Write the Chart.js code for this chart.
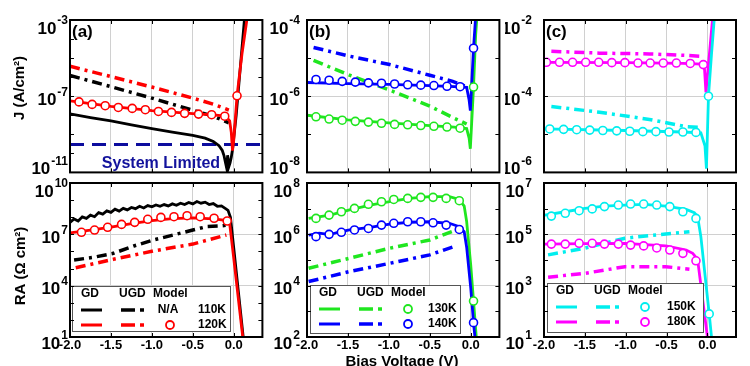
<!DOCTYPE html>
<html>
<head>
<meta charset="utf-8">
<script src="https://cdn.jsdelivr.net/npm/chart.js@4.4.1/dist/chart.umd.min.js"></script>
<style>
  html, body { margin: 0; padding: 0; background: #fff; }
  #fig { position: relative; width: 750px; height: 366px; overflow: hidden; }
  #fig canvas { position: absolute; }
</style>
</head>
<body>
<div id="fig">
  <canvas id="aTop"></canvas>
  <canvas id="bTop"></canvas>
  <canvas id="cTop"></canvas>
  <canvas id="aBot"></canvas>
  <canvas id="bBot"></canvas>
  <canvas id="cBot"></canvas>
</div>
<script>
// bias voltage axis (all panels)
const vRange = [-2.0, 0.35];
const vGrid = [-1.5, -1.0, -0.5, 0.0];
const vTickValues = [-2.0, -1.5, -1.0, -0.5, 0.0];
const vTickLabels = ['-2.0', '-1.5', '-1.0', '-0.5', '0.0'];

// all y values below are log10 exponents

// (a) J, 110K / 120K
const aJ_gd110_v = [-2.0, -1.75, -1.5, -1.25, -1.0, -0.75, -0.5, -0.35, -0.25, -0.18, -0.14, -0.12, -0.1, -0.085, -0.075, -0.06, -0.045, -0.03, -0.015, 0.0, 0.03, 0.07, 0.13, 0.18];
const aJ_gd110   = [-7.93, -8.12, -8.3, -8.5, -8.7, -8.88, -9.06, -9.2, -9.38, -9.6, -9.85, -10.1, -10.5, -10.8, -10.1, -10.7, -10.5, -10.2, -9.8, -9.2, -8.0, -6.0, -3.0, -1.5];
const aJ_gd120_v = [-2.0, -1.5, -1.0, -0.5, -0.25, -0.1, -0.05, -0.03, -0.015, 0.0, 0.04, 0.1, 0.16, 0.22];
const aJ_gd120   = [-7.25, -7.53, -7.76, -7.92, -7.98, -8.05, -8.3, -8.9, -9.86, -9.3, -6.98, -4.8, -3.0, -1.5];
const aJ_ugd_v   = [-2.0, -1.5, -1.0, -0.5, -0.25, -0.06];
const aJ_ugd110  = [-5.91, -6.5, -7.1, -7.74, -8.05, -8.4];
const aJ_ugd120  = [-5.43, -5.97, -6.52, -7.1, -7.42, -7.73];
const aJ_mod_v   = [-1.89, -1.73, -1.57, -1.41, -1.24, -1.08, -0.92, -0.76, -0.60, -0.43, -0.27, -0.11, 0.04];
const aJ_mod120  = [-7.30, -7.43, -7.50, -7.59, -7.64, -7.71, -7.80, -7.85, -7.90, -7.94, -7.97, -8.05, -6.98];
const aJ_sys_v   = [-2.0, 0.35];
const aJ_sys     = [-9.53, -9.53];

// (b) J, 130K / 140K
const bJ_gd_v    = [-2.0, -1.5, -1.0, -0.5, -0.2, -0.05, -0.02, -0.005, 0.034, 0.06, 0.1];
const bJ_gd140   = [-5.64, -5.67, -5.69, -5.72, -5.75, -5.77, -6.1, -6.38, -4.74, -3.9, -3.0];
const bJ_gd130   = [-6.5, -6.62, -6.70, -6.77, -6.81, -6.85, -7.1, -7.38, -5.76, -4.4, -3.2];
const bJ_ugd_v   = [-1.92, -1.48, -0.99, -0.50, -0.22, -0.05];
const bJ_ugd140  = [-4.72, -4.95, -5.17, -5.45, -5.61, -5.75];
const bJ_ugd130  = [-5.06, -5.45, -5.84, -6.26, -6.56, -6.73];
const bJ_mod_v   = [-1.89, -1.73, -1.57, -1.41, -1.25, -1.09, -0.93, -0.77, -0.61, -0.45, -0.29, -0.13, 0.034];
const bJ_mod140  = [-5.56, -5.58, -5.61, -5.63, -5.65, -5.66, -5.68, -5.70, -5.71, -5.72, -5.74, -5.75, -4.74];
const bJ_mod130  = [-6.54, -6.60, -6.63, -6.66, -6.68, -6.71, -6.74, -6.75, -6.77, -6.79, -6.81, -6.84, -5.76];

// (c) J, 150K / 180K
const cJ_gd180_v = [-2.0, -1.0, -0.3, -0.06, -0.035, -0.018, 0.02, 0.062, 0.1];
const cJ_gd180   = [-3.11, -3.12, -3.14, -3.16, -3.3, -3.9, -3.0, -2.0, -1.2];
const cJ_gd150_v = [-2.0, -1.0, -0.3, -0.08, -0.03, -0.012, 0.013, 0.05, 0.083, 0.12];
const cJ_gd150   = [-4.86, -4.9, -4.94, -4.96, -5.3, -5.9, -4.0, -2.9, -2.0, -1.2];
const cJ_ugd_v   = [-1.91, -1.32, -0.71, -0.26, -0.10];
const cJ_ugd180  = [-2.82, -2.87, -2.89, -2.93, -2.95];
const cJ_ugd150  = [-4.27, -4.42, -4.61, -4.80, -4.82];
const cJ_mod180_v = [-1.97, -1.81, -1.65, -1.49, -1.33, -1.17, -1.01, -0.85, -0.70, -0.54, -0.38, -0.21, -0.05];
const cJ_mod180  = [-3.11, -3.11, -3.11, -3.11, -3.11, -3.12, -3.12, -3.13, -3.13, -3.13, -3.13, -3.14, -3.17];
const cJ_mod150_v = [-1.93, -1.76, -1.60, -1.44, -1.28, -1.11, -0.95, -0.79, -0.63, -0.47, -0.30, -0.14, 0.013];
const cJ_mod150  = [-4.86, -4.87, -4.88, -4.89, -4.90, -4.91, -4.92, -4.93, -4.93, -4.94, -4.94, -4.95, -4.0];

// (a) RA, 110K / 120K
const aR_gd110_v = [-2.0, -1.95, -1.9, -1.85, -1.8, -1.75, -1.7, -1.65, -1.6, -1.55, -1.5, -1.45, -1.4, -1.35, -1.3, -1.25, -1.2, -1.15, -1.1, -1.05, -1.0, -0.95, -0.9, -0.85, -0.8, -0.75, -0.7, -0.65, -0.6, -0.55, -0.5, -0.45, -0.4, -0.35, -0.3, -0.25, -0.2, -0.15, -0.1, -0.07, -0.04, 0.0, 0.04, 0.08, 0.12];
const aR_gd110   = [7.70, 7.90, 7.78, 8.02, 7.93, 8.12, 8.03, 8.27, 8.18, 8.37, 8.28, 8.47, 8.36, 8.52, 8.43, 8.57, 8.50, 8.64, 8.54, 8.68, 8.61, 8.72, 8.64, 8.74, 8.66, 8.78, 8.70, 8.82, 8.74, 8.86, 8.78, 8.92, 8.82, 8.88, 8.74, 8.80, 8.64, 8.66, 8.50, 8.40, 8.0, 6.2, 4.4, 2.6, 0.8];
const aR_gd120_v = [-2.0, -1.75, -1.5, -1.25, -1.0, -0.75, -0.5, -0.25, -0.1, -0.05, 0.0, 0.05, 0.11, 0.14];
const aR_gd120   = [7.08, 7.25, 7.42, 7.62, 7.80, 7.92, 7.96, 7.90, 7.82, 7.64, 5.6, 3.5, 1.0, 0.0];
const aR_ugd110_v = [-1.95, -1.71, -1.47, -1.22, -0.98, -0.74, -0.50, -0.33, -0.17, -0.05];
const aR_ugd110  = [5.50, 5.66, 5.89, 6.32, 6.67, 6.96, 7.25, 7.45, 7.49, 7.55];
const aR_ugd120_v = [-1.93, -1.47, -0.98, -0.50, -0.09];
const aR_ugd120  = [5.05, 5.54, 6.03, 6.43, 6.96];
const aR_mod_v   = [-1.86, -1.70, -1.54, -1.37, -1.21, -1.05, -0.89, -0.73, -0.57, -0.41, -0.24, -0.08];
const aR_mod120  = [7.12, 7.25, 7.41, 7.58, 7.70, 7.88, 7.99, 8.03, 8.09, 8.03, 7.94, 7.78];

// (b) RA, 130K / 140K
const bR_gd130_v = [-1.98, -1.72, -1.48, -1.23, -0.99, -0.75, -0.50, -0.26, -0.14, -0.08, -0.05, 0.0, 0.034, 0.07];
const bR_gd130   = [6.62, 6.75, 6.95, 7.14, 7.27, 7.40, 7.47, 7.47, 7.36, 7.1, 6.5, 4.8, 3.4, 1.9];
const bR_gd140_v = [-1.98, -1.85, -1.72, -1.6, -1.48, -1.23, -0.99, -0.75, -0.50, -0.26, -0.14, -0.08, -0.05, 0.0, 0.034, 0.06];
const bR_gd140   = [5.97, 6.05, 5.99, 6.10, 6.17, 6.27, 6.40, 6.47, 6.49, 6.43, 6.30, 6.1, 5.5, 3.9, 2.56, 1.7];
const bR_ugd_v   = [-1.98, -1.48, -0.99, -0.50, -0.18];
const bR_ugd130  = [4.68, 5.07, 5.46, 5.78, 6.17];
const bR_ugd140  = [4.16, 4.55, 4.87, 5.20, 5.55];
const bR_mod_v   = [-1.89, -1.73, -1.58, -1.42, -1.25, -1.09, -0.94, -0.77, -0.61, -0.46, -0.30, -0.14, 0.034];
const bR_mod130  = [6.62, 6.75, 6.88, 7.01, 7.17, 7.27, 7.36, 7.40, 7.44, 7.44, 7.40, 7.31, 3.40];
const bR_mod140  = [5.91, 6.00, 6.08, 6.17, 6.23, 6.36, 6.43, 6.49, 6.49, 6.45, 6.36, 6.19, 2.56];

// (c) RA, 150K / 180K
const cR_gd150_v = [-1.99, -1.74, -1.50, -1.26, -1.01, -0.77, -0.51, -0.26, -0.16, -0.12, -0.08, 0.022, 0.05];
const cR_gd150   = [5.75, 5.88, 6.01, 6.10, 6.14, 6.17, 6.10, 5.97, 5.84, 5.69, 4.91, 1.90, 1.0];
const cR_gd180_v = [-1.99, -1.50, -1.01, -0.51, -0.26, -0.18, -0.12, 0.0, 0.03];
const cR_gd180   = [4.62, 4.64, 4.65, 4.55, 4.39, 4.26, 4.03, 1.0, 0.3];
const cR_ugd_v   = [-1.95, -1.50, -1.01, -0.51, -0.22];
const cR_ugd150  = [4.20, 4.46, 4.85, 5.01, 5.10];
const cR_ugd180  = [3.33, 3.48, 3.74, 3.74, 3.64];
const cR_mod_v   = [-1.91, -1.74, -1.57, -1.41, -1.26, -1.09, -0.94, -0.78, -0.62, -0.46, -0.30, -0.14];
const cR_mod150  = [5.71, 5.82, 5.92, 5.99, 6.08, 6.14, 6.18, 6.18, 6.14, 6.08, 5.88, 5.62];
const cR_mod150x = [0.022, 1.90];
const cR_mod180  = [4.62, 4.62, 4.65, 4.65, 4.62, 4.62, 4.58, 4.55, 4.47, 4.39, 4.26, 3.97];

const RED = '#ff0000', BLK = '#000000', GRN = '#1fe61f', BLU = '#0000ff', CYN = '#00eeee', MAG = '#ff00ff';
const FONT = 'Arial, "Liberation Sans", sans-serif';

function pts(xs, es) {
  return xs.map((x, i) => ({ x: x, y: Math.pow(10, es[i]) }));
}
function gd(xs, es, c) {
  return { data: pts(xs, es), borderColor: c, borderWidth: 2.8, pointRadius: 0, tension: 0 };
}
function ugd(xs, es, c) {
  return { data: pts(xs, es), borderColor: c, borderWidth: 3.5, borderDash: [10, 5, 3, 5], pointRadius: 0, tension: 0 };
}
function model(xs, es, c) {
  return { data: pts(xs, es), showLine: false, pointRadius: 4, pointBorderWidth: 1.6,
           pointBorderColor: c, pointBackgroundColor: '#fff', borderColor: c };
}

function drawPow(ctx, xr, yc, e) {
  const base = '10', sup = String(e);
  ctx.font = 'bold 17px ' + FONT;
  const wb = ctx.measureText(base).width;
  ctx.font = 'bold 12px ' + FONT;
  const ws = ctx.measureText(sup).width;
  const x0 = xr - ws - wb - 1;
  ctx.fillStyle = '#000';
  ctx.textAlign = 'left';
  ctx.textBaseline = 'middle';
  ctx.font = 'bold 17px ' + FONT;
  ctx.fillText(base, x0, yc + 3);
  ctx.font = 'bold 12px ' + FONT;
  ctx.fillText(sup, x0 + wb + 1, yc - 5);
}

function drawLegend(ctx, lg) {
  const x = lg.x, y = lg.y;
  ctx.fillStyle = '#fff';
  ctx.fillRect(x, y, lg.w, lg.h);
  ctx.strokeStyle = '#555';
  ctx.lineWidth = 1;
  ctx.setLineDash([]);
  ctx.strokeRect(x + 0.5, y + 0.5, lg.w, lg.h);
  ctx.fillStyle = '#000';
  ctx.font = 'bold 12px ' + FONT;
  ctx.textBaseline = 'middle';
  ctx.textAlign = 'left';
  ctx.fillText('GD', x + 9, y + 8);
  ctx.fillText('UGD', x + 47, y + 8);
  ctx.fillText('Model', x + 81, y + 8);
  lg.rows.forEach((r, i) => {
    const ry = y + 24 + i * 15;
    ctx.strokeStyle = r.c;
    ctx.lineWidth = 3;
    ctx.beginPath(); ctx.moveTo(x + 9, ry); ctx.lineTo(x + 30, ry); ctx.stroke();
    ctx.lineWidth = 3.5;
    ctx.beginPath(); ctx.moveTo(x + 49, ry); ctx.lineTo(x + 63, ry); ctx.stroke();
    ctx.beginPath(); ctx.moveTo(x + 68, ry); ctx.lineTo(x + 72, ry); ctx.stroke();
    ctx.fillStyle = '#000';
    if (r.model) {
      ctx.lineWidth = 1.8;
      ctx.fillStyle = '#fff';
      ctx.beginPath(); ctx.arc(x + 98, ry, 4, 0, Math.PI * 2); ctx.fill(); ctx.stroke();
    } else {
      ctx.textAlign = 'center';
      ctx.fillText('N/A', x + 96, ry);
      ctx.textAlign = 'left';
    }
    ctx.fillStyle = '#000';
    ctx.fillText(r.temp, x + lg.tempX, ry);
  });
}

function decor(p) {
  return {
    id: 'decor_' + p.id,
    afterDraw(chart) {
      const ctx = chart.ctx, xs = chart.scales.x, ys = chart.scales.y, A = chart.chartArea;
      const cx = p.box[0], cy = p.box[1];
      const X = v => xs.getPixelForValue(v) + cx;
      const Y = e => ys.getPixelForValue(Math.pow(10, e)) + cy;
      const L = A.left + cx, R = A.right + cx, T = A.top + cy, B = A.bottom + cy;
      ctx.save();
      ctx.translate(-cx, -cy);
      if (p.legend) drawLegend(ctx, p.legend);
      // inward tick marks
      ctx.strokeStyle = '#000';
      ctx.lineWidth = 1;
      ctx.setLineDash([]);
      ctx.beginPath();
      for (let e = p.exp[0] + 1; e < p.exp[1]; e++) {
        const y = Math.round(Y(e)) + 0.5;
        ctx.moveTo(L, y); ctx.lineTo(L + 4, y);
        ctx.moveTo(R - 4, y); ctx.lineTo(R, y);
      }
      vGrid.forEach(v => {
        const x = Math.round(X(v)) + 0.5;
        ctx.moveTo(x, T); ctx.lineTo(x, T + 4);
        ctx.moveTo(x, B - 4); ctx.lineTo(x, B);
      });
      ctx.stroke();
      // frame
      ctx.lineWidth = 2;
      ctx.strokeRect(L, T, R - L, B - T);
      // y tick labels
      p.yLab.forEach(([e, dy]) => drawPow(ctx, p.labR, Y(e) + dy, e));
      // x tick labels
      if (p.xLab) {
        ctx.fillStyle = '#000';
        ctx.font = 'bold 13px ' + FONT;
        ctx.textAlign = 'center';
        ctx.textBaseline = 'middle';
        vTickValues.forEach((v, i) => ctx.fillText(vTickLabels[i], X(v), 345));
      }
      // panel letter
      if (p.letter) {
        ctx.fillStyle = '#000';
        ctx.font = 'bold 17px ' + FONT;
        ctx.textAlign = 'left';
        ctx.textBaseline = 'alphabetic';
        ctx.fillText(p.letter, L + 2, T + 17);
      }
      (p.texts || []).forEach(t => {
        ctx.save();
        ctx.fillStyle = t.color || '#000';
        ctx.font = t.font;
        ctx.textAlign = 'center';
        ctx.textBaseline = t.base || 'middle';
        ctx.translate(t.x, t.y);
        if (t.rot) ctx.rotate(t.rot);
        ctx.fillText(t.text, 0, 0);
        ctx.restore();
      });
      ctx.restore();
    }
  };
}

const panels = [
  { id: 'aTop', box: [0, 0, 268, 178], area: [70, 20, 263, 174], exp: [-11, -3], yGrid: [-7],
    yLab: [[-3, 6], [-7, 1], [-11, -6]], labR: 68, letter: '(a)',
    texts: [
      { text: 'J (A/cm\u00B2)', x: 20, y: 88, rot: -Math.PI / 2, font: 'bold 15px ' + FONT },
      { text: 'System Limited', x: 161, y: 168, base: 'alphabetic', color: '#12129c', font: 'bold 16px ' + FONT }
    ],
    sets: [
      model(aJ_mod_v, aJ_mod120, RED),
      gd(aJ_gd120_v, aJ_gd120, RED),
      gd(aJ_gd110_v, aJ_gd110, BLK),
      ugd(aJ_ugd_v, aJ_ugd120, RED),
      ugd(aJ_ugd_v, aJ_ugd110, BLK),
      { data: pts(aJ_sys_v, aJ_sys), borderColor: '#0c0c9e', borderWidth: 3, borderDash: [14, 8], pointRadius: 0 }
    ] },
  { id: 'bTop', box: [268, 0, 237, 178], area: [307, 20, 500, 174], exp: [-8, -4], yGrid: [-6],
    yLab: [[-4, 6], [-6, 1], [-8, -6]], labR: 300, letter: '(b)',
    sets: [
      model(bJ_mod_v, bJ_mod140, BLU),
      model(bJ_mod_v, bJ_mod130, GRN),
      gd(bJ_gd_v, bJ_gd140, BLU),
      gd(bJ_gd_v, bJ_gd130, GRN),
      ugd(bJ_ugd_v, bJ_ugd140, BLU),
      ugd(bJ_ugd_v, bJ_ugd130, GRN)
    ] },
  { id: 'cTop', box: [505, 0, 245, 178], area: [544, 20, 736, 174], exp: [-6, -2], yGrid: [-4],
    yLab: [[-2, 6], [-4, 1], [-6, -6]], labR: 532, letter: '(c)',
    sets: [
      model(cJ_mod180_v, cJ_mod180, MAG),
      model(cJ_mod150_v, cJ_mod150, CYN),
      gd(cJ_gd150_v, cJ_gd150, CYN),
      gd(cJ_gd180_v, cJ_gd180, MAG),
      ugd(cJ_ugd_v, cJ_ugd180, MAG),
      ugd(cJ_ugd_v, cJ_ugd150, CYN)
    ] },
  { id: 'aBot', box: [0, 176, 268, 190], area: [70, 183, 263, 337], exp: [1, 10], yGrid: [4, 7],
    yLab: [[10, 6], [7, 1], [4, 1], [1, 4]], labR: 68, xLab: true,
    texts: [ { text: 'RA (\u03A9 cm\u00B2)', x: 21, y: 266, rot: -Math.PI / 2, font: 'bold 15px ' + FONT } ],
    legend: { x: 72, y: 286, w: 158, h: 45, tempX: 126,
              rows: [ { c: BLK, temp: '110K', model: false }, { c: RED, temp: '120K', model: true } ] },
    sets: [
      model(aR_mod_v, aR_mod120, RED),
      gd(aR_gd120_v, aR_gd120, RED),
      gd(aR_gd110_v, aR_gd110, BLK),
      ugd(aR_ugd120_v, aR_ugd120, RED),
      ugd(aR_ugd110_v, aR_ugd110, BLK)
    ] },
  { id: 'bBot', box: [268, 176, 237, 190], area: [307, 183, 500, 337], exp: [2, 8], yGrid: [4, 6],
    yLab: [[8, 6], [6, 1], [4, 1], [2, 4]], labR: 300, xLab: true,
    texts: [ { text: 'Bias Voltage (V)', x: 402, y: 366, base: 'alphabetic', font: 'bold 15px ' + FONT } ],
    legend: { x: 310, y: 285, w: 150, h: 48, tempX: 118,
              rows: [ { c: GRN, temp: '130K', model: true }, { c: BLU, temp: '140K', model: true } ] },
    sets: [
      model(bR_mod_v, bR_mod130, GRN),
      model(bR_mod_v, bR_mod140, BLU),
      gd(bR_gd140_v, bR_gd140, BLU),
      gd(bR_gd130_v, bR_gd130, GRN),
      ugd(bR_ugd_v, bR_ugd130, GRN),
      ugd(bR_ugd_v, bR_ugd140, BLU)
    ] },
  { id: 'cBot', box: [505, 176, 245, 190], area: [544, 183, 736, 337], exp: [1, 7], yGrid: [3, 5],
    yLab: [[7, 6], [5, 1], [3, 1], [1, 4]], labR: 532, xLab: true,
    legend: { x: 547, y: 283, w: 156, h: 49, tempX: 120,
              rows: [ { c: CYN, temp: '150K', model: true }, { c: MAG, temp: '180K', model: true } ] },
    sets: [
      model(cR_mod_v.concat([cR_mod150x[0]]), cR_mod150.concat([cR_mod150x[1]]), CYN),
      model(cR_mod_v, cR_mod180, MAG),
      gd(cR_gd150_v, cR_gd150, CYN),
      gd(cR_gd180_v, cR_gd180, MAG),
      ugd(cR_ugd_v, cR_ugd150, CYN),
      ugd(cR_ugd_v, cR_ugd180, MAG)
    ] }
];

function build(p) {
  const cv = document.getElementById(p.id);
  const [cx, cy, cw, ch] = p.box;
  const [l, t, r, b] = p.area;
  cv.width = cw; cv.height = ch;
  cv.style.left = cx + 'px'; cv.style.top = cy + 'px';
  new Chart(cv, {
    type: 'line',
    data: { datasets: p.sets },
    options: {
      responsive: false,
      animation: false,
      devicePixelRatio: 1,
      events: [],
      layout: { padding: { left: l - cx, top: t - cy, right: cx + cw - r, bottom: cy + ch - b } },
      plugins: { legend: { display: false }, tooltip: { enabled: false } },
      scales: {
        x: {
          type: 'linear', min: vRange[0], max: vRange[1],
          ticks: { display: false },
          grid: { color: '#d0d0d0', lineWidth: 1, drawTicks: false },
          border: { display: false },
          afterBuildTicks: s => { s.ticks = vGrid.map(v => ({ value: v })); },
          afterFit: s => { s.height = 0; }
        },
        y: {
          type: 'logarithmic', min: Math.pow(10, p.exp[0]), max: Math.pow(10, p.exp[1]),
          ticks: { display: false },
          grid: { color: '#d0d0d0', lineWidth: 1, drawTicks: false },
          border: { display: false },
          afterBuildTicks: s => { s.ticks = p.yGrid.map(e => ({ value: Math.pow(10, e) })); },
          afterFit: s => { s.width = 0; }
        }
      }
    },
    plugins: [decor(p)]
  });
}

panels.forEach(build);
</script>
</body>
</html>
